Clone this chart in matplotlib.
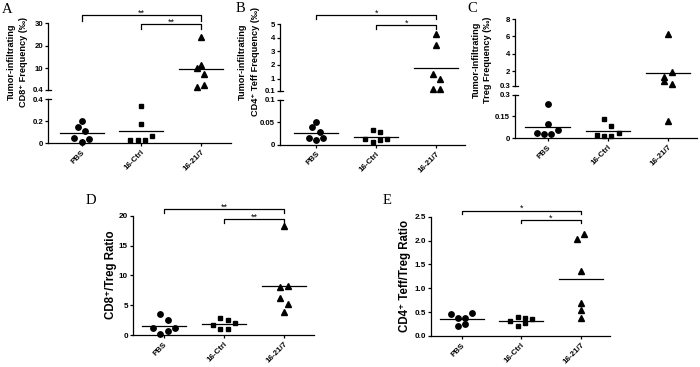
import numpy as np
import matplotlib
matplotlib.use("Agg")
import matplotlib.pyplot as plt
from matplotlib.transforms import blended_transform_factory

plt.rcParams['font.family'] = ['Liberation Sans', 'DejaVu Sans']
plt.rcParams['font.weight'] = 'bold'

groups = ['PBS', '16-Ctrl', '16-21/7']
markers = ['o', 's', '^']
msizes = [3.9, 3.5, 4.1]

# values, listed left to right inside each row of points
# A: tumor-infiltrating CD8+ frequency (permil)
cd8_pbs = [0.198, 0.147, 0.108, 0.042, 0.012, 0.036]
cd8_ctrl = [0.337, 0.177, 0.027, 0.027, 0.027, 0.066]
cd8_tx = [24.0, 11.3, 10.1, 7.5, 1.9, 2.8]
# B: CD4+ Teff frequency (permil)
teff_pbs = [0.0515, 0.040, 0.028, 0.016, 0.0097, 0.016]
teff_ctrl = [0.034, 0.028, 0.012, 0.0067, 0.010, 0.013]
teff_tx = [4.27, 3.46, 1.32, 1.0, 0.2, 0.2]
# C: Treg frequency (permil)
treg_pbs = [0.236, 0.096, 0.034, 0.027, 0.027, 0.057]
treg_ctrl = [0.13, 0.085, 0.025, 0.014, 0.014, 0.034]
treg_tx = [6.28, 1.34, 1.92, 0.87, 0.48, 0.117]
# D: CD8+/Treg ratio
cd8_ratio_pbs = [3.52, 2.46, 1.12, 0.11, 0.73, 1.12]
cd8_ratio_ctrl = [2.9, 2.57, 1.73, 0.95, 0.95, 2.07]
cd8_ratio_tx = [18.2, 8.0, 8.16, 6.15, 5.14, 3.8]
# E: CD4+ Teff/Treg ratio
teff_ratio_pbs = [0.46, 0.37, 0.384, 0.475, 0.217, 0.25]
teff_ratio_ctrl = [0.32, 0.21, 0.28, 0.35, 0.39, 0.377]
teff_ratio_tx = [2.03, 2.13, 1.355, 0.70, 0.545, 0.37]

sig_A = [(0, 2, '**'), (1, 2, '**')]
sig_B = [(0, 2, '*'), (1, 2, '*')]
sig_D = [(0, 2, '**'), (1, 2, '**')]
sig_E = [(0, 2, '*'), (1, 2, '*')]

W, H = 700, 367
fig = plt.figure(figsize=(W / 100, H / 100), dpi=100)


def fy(py):
    return 1 - py / H


def rect(left, right, top, bottom):
    return [left / W, 1 - bottom / H, (right - left) / W, (bottom - top) / H]


def style(ax, xlim, ylim, ticks, labels, show_x, tsize=5.6):
    ax.set_xlim(*xlim)
    ax.set_ylim(*ylim)
    ax.set_yticks(ticks)
    ax.set_yticklabels(labels)
    ax.patch.set_alpha(0)
    for s in ['top', 'right']:
        ax.spines[s].set_visible(False)
    ax.spines['left'].set_linewidth(0.9)
    ax.spines['bottom'].set_linewidth(0.9)
    ax.tick_params(axis='y', direction='out', length=2.5, width=0.9, labelsize=tsize, pad=1)
    if show_x:
        ax.set_xticks(range(3))
        ax.set_xticklabels(groups, rotation=45, ha='right', rotation_mode='anchor')
        ax.tick_params(axis='x', length=2, width=0.9, labelsize=5.7, pad=2)
    else:
        ax.spines['bottom'].set_visible(False)
        ax.set_xticks([])


def swarm(ax, pos, vals, step_px=7.2, gap_px=7.0):
    # GraphPad-like column scatter: rows of close points spread sideways
    vals = np.asarray(vals, float)
    ypix = ax.transData.transform(np.column_stack([np.full(len(vals), pos), vals]))[:, 1]
    x0, x1 = ax.get_xlim()
    dx = step_px * (x1 - x0) / ax.bbox.width
    xs = np.full(len(vals), float(pos))
    order = list(np.argsort(ypix, kind='stable'))
    while order:
        start = ypix[order[0]]
        row = [k for k in order if ypix[k] - start <= gap_px]
        order = [k for k in order if k not in row]
        row = sorted(row)
        n = len(row)
        for m, k in enumerate(row):
            xs[k] = pos + (m - (n - 1) / 2) * dx
    return xs


def draw_column(ax_lo, ax_hi, brk, pos, vals):
    vals = np.asarray(vals, float)
    for ax, sel in [(ax_lo, vals <= brk), (ax_hi, vals > brk)]:
        if ax is None or not sel.any():
            continue
        xs = swarm(ax, pos, vals[sel])
        ax.plot(xs, vals[sel], linestyle='none', marker=markers[pos],
                markersize=msizes[pos], color='k', clip_on=False)
    m = vals.mean()
    ax = ax_hi if (ax_hi is not None and m > brk) else ax_lo
    ax.plot([pos - 0.37, pos + 0.37], [m, m], color='k', lw=0.9)


def bracket(ax, i, j, y_line, y_leg, text):
    tr = blended_transform_factory(ax.transData, fig.transFigure)
    ax.plot([i, i, j, j], [fy(y_leg), fy(y_line), fy(y_line), fy(y_leg)],
            color='k', lw=0.9, transform=tr, clip_on=False)
    ax.text((i + j) / 2, fy(y_line - 2.0), text, transform=tr, ha='center',
            va='center', fontsize=6.5, fontweight='normal')


def break_marks(ax_lo, ax_hi):
    for ax, y in [(ax_lo, 1), (ax_hi, 0)]:
        ax.plot([0, 3 / ax.bbox.width], [y, y], color='k', lw=0.9,
                transform=ax.transAxes, clip_on=False)


def broken_panel(box, xlim, lo, hi, brk, series, sigs, bracket_px):
    left, right, top, mid_top, mid_bot, bottom = box
    ax_hi = fig.add_axes(rect(left, right, top, mid_top))
    ax_lo = fig.add_axes(rect(left, right, mid_bot, bottom))
    style(ax_hi, xlim, hi[0], hi[1], hi[2], False)
    style(ax_lo, xlim, lo[0], lo[1], lo[2], True)
    for pos, vals in enumerate(series):
        draw_column(ax_lo, ax_hi, brk, pos, vals)
    break_marks(ax_lo, ax_hi)
    for (i, j, t), (yl, yg) in zip(sigs, bracket_px):
        bracket(ax_hi, i, j, yl, yg, t)
    return ax_lo, ax_hi


# A
broken_panel((48, 231, 23, 90, 99, 143), (-0.565, 2.505),
             ((0, 0.4), [0, 0.2, 0.4], ['0', '0.2', '0.4']),
             ((0.4, 30), [0.4, 10, 20, 30], ['0.4', '10', '20', '30']),
             0.4, [cd8_pbs, cd8_ctrl, cd8_tx], sig_A, [(15, 20.7), (24, 29)])
# B
broken_panel((280, 465, 24.3, 90.7, 100, 144.7), (-0.6, 2.48),
             ((0, 0.1), [0, 0.05, 0.1], ['0', '0.05', '0.1']),
             ((0.1, 5), [0.1, 1, 2, 3, 4, 5], ['0.1', '1', '2', '3', '4', '5']),
             0.1, [teff_pbs, teff_ctrl, teff_tx], sig_B, [(15, 19.3), (25, 29.3)])
# C
broken_panel((515, 697, 19, 86, 94.7, 138.3), (-0.54, 2.48),
             ((0, 0.3), [0, 0.15, 0.3], ['0', '0.15', '0.3']),
             ((0.3, 8), [0.3, 2, 4, 6, 8], ['0.3', '2', '4', '6', '8']),
             0.3, [treg_pbs, treg_ctrl, treg_tx], [], [])

# D
axD = fig.add_axes(rect(132.7, 314, 215.7, 335))
style(axD, (-0.52, 2.5), (0, 20), [0, 5, 10, 15, 20], ['0', '5', '10', '15', '20'], True, 5.9)
for pos, vals in enumerate([cd8_ratio_pbs, cd8_ratio_ctrl, cd8_ratio_tx]):
    draw_column(axD, None, np.inf, pos, vals)
for (i, j, t), (yl, yg) in zip(sig_D, [(209.3, 213.3), (219.3, 223.3)]):
    bracket(axD, i, j, yl, yg, t)

# E
axE = fig.add_axes(rect(430.7, 610, 216.7, 336))
eticks = [0.0, 0.5, 1.0, 1.5, 2.0, 2.5]
style(axE, (-0.52, 2.49), (0, 2.5), eticks, ['%.1f' % t for t in eticks], True, 5.9)
for pos, vals in enumerate([teff_ratio_pbs, teff_ratio_ctrl, teff_ratio_tx]):
    draw_column(axE, None, np.inf, pos, vals)
for (i, j, t), (yl, yg) in zip(sig_E, [(210.7, 214), (220, 223.3)]):
    bracket(axE, i, j, yl, yg, t)

# y labels
ylabels = [
    (['Tumor-infiltrating', 'CD8\u207a Frequency (\u2030)'], [11, 23.5], 62, 6.6),
    (['Tumor-infiltrating', 'CD4\u207a Teff Frequency (\u2030)'], [242.5, 255.5], 62, 6.6),
    (['Tumor-Infiltrating', 'Treg Frequency (\u2030)'], [476.5, 487.5], 60, 6.6),
    (['CD8\u207a/Treg Ratio'], [111], 275, 8.3),
    (['CD4\u207a Teff/Treg Ratio'], [405], 276, 8.3),
]
for lines, xs, yc, size in ylabels:
    for line, x in zip(lines, xs):
        fig.text(x / W, fy(yc), line, rotation=90, ha='center', va='center', fontsize=size)

# panel letters
for letter, x, y in [('A', 2, 3), ('B', 236, 2), ('C', 467, 2), ('D', 86, 194), ('E', 383, 194)]:
    fig.text(x / W, fy(y), letter, family='Liberation Serif', fontweight='normal',
             fontsize=10.5, ha='left', va='top')

fig.savefig('out.png', dpi=100)
